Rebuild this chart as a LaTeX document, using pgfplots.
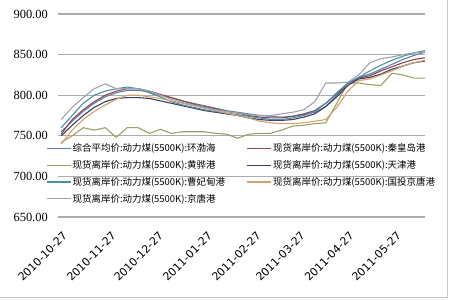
\documentclass[border=0pt]{standalone}
\usepackage{pgfplots}
\usepackage{pgfplotstable}
\pgfplotsset{compat=1.18}
\usepackage{fontspec}
\setmainfont{Liberation Serif}
\newfontfamily\cjk{Noto Sans CJK SC}
\newfontfamily\dv{DejaVu Sans}
\definecolor{cA}{HTML}{5A82B0}
\definecolor{cB}{HTML}{8E4646}
\definecolor{cC}{HTML}{9AA262}
\definecolor{cD}{HTML}{3E3E66}
\definecolor{cE}{HTML}{4A8EA6}
\definecolor{cF}{HTML}{CFA26E}
\definecolor{cG}{HTML}{A0A3AE}
\pgfplotstableread{
d A B C D E F G
0 755 752 742 750 760 740 770
7 768 770 750 763 775 757 785
14 780 782 760 775 790 770 797
21 790 792 757 785 800 780 808
28 798 800 760 792 805 788 814
35 803 805 748 796 808 795 808
42 806 808 760 797 810 800 808
49 806 808 760 797 808 800 808
56 804 805 753 796 803 798 805
63 800 801 758 793 798 796 800
70 797 797 753 790 792 793 795
77 793 793 755 787 788 790 791
84 790 789 755 784 785 787 788
91 787 786 755 781 782 784 785
98 784 783 753 779 780 781 782
105 781 780 752 777 778 778 780
112 779 778 747 775 776 775 778
119 777 775 752 772 774 772 776
126 775 773 753 770 772 768 775
133 774 772 753 769 770 766 775
140 773 772 757 769 770 765 777
147 774 774 762 770 772 765 779
154 776 777 763 773 775 766 782
161 779 781 765 777 780 768 792
168 786 790 766 786 790 770 815
175 800 802 790 798 803 785 815
182 814 814 815 812 815 805 816
189 822 821 815 820 822 818 825
196 826 824 813 822 830 820 840
203 832 830 812 826 837 825 845
210 838 835 827 832 843 830 847
217 844 840 825 836 848 836 850
224 849 844 821 840 852 840 852
231 853 846 821 842 855 843 853
}\data
\begin{document}
\begin{tikzpicture}
\path[use as bounding box] (-58bp,-83bp) rectangle (392bp,217bp);
\draw[gray!45, line width=1bp] (-58bp,-80bp) -- (389bp,-80bp) -- (389bp,217bp);
\begin{axis}[
  at={(0,0)}, anchor=south west,
  scale only axis, width=367bp, height=203bp,
  xmin=-2, xmax=231, ymin=650, ymax=900,
  ytick={650,700,750,800,850,900},
  xtick={0,31,61,92,123,151,182,212},
  xticklabels={2010-10-27,2010-11-27,2010-12-27,2011-01-27,2011-02-27,2011-03-27,2011-04-27,2011-05-27},
  ymajorgrids, grid style={line width=1.3bp, color=gray!65},
  axis line style={draw=none},
  major tick length=0pt,
  yticklabel style={font=\fontsize{12.5}{14}\selectfont, anchor=east, inner sep=0pt, xshift=-10bp,
    /pgf/number format/fixed, /pgf/number format/fixed zerofill, /pgf/number format/precision=2,
    /pgf/number format/assume math mode=true},
  xticklabel style={font=\dv\fontsize{11}{13}\selectfont, inner sep=0pt, xshift=4bp, yshift=-17bp, rotate=45, anchor=east},
  legend columns=2,
  legend cell align=left,
  legend image code/.code={\draw[#1] (0bp,0bp) -- (24bp,0bp);},
  legend style={at={(-0.033,0.369)}, anchor=north west, draw=none, fill=none,
    font=\cjk\fontsize{9.5}{11}\selectfont, row sep=4.2bp, inner sep=0pt,
    nodes={inner sep=1.5bp},
    /tikz/every odd column/.append style={column sep=0bp},
    /tikz/every even column/.append style={column sep=20bp}},
  every axis plot/.append style={line width=1.1bp},
]
\addplot[cA, no marks] table[x=d, y=A] {\data};
\addlegendentry{综合平均价:动力煤(5500K):环渤海}
\addplot[cB, no marks] table[x=d, y=B] {\data};
\addlegendentry{现货离岸价:动力煤(5500K):秦皇岛港}
\addplot[cC, no marks] table[x=d, y=C] {\data};
\addlegendentry{现货离岸价:动力煤(5500K):黄骅港}
\addplot[cD, no marks] table[x=d, y=D] {\data};
\addlegendentry{现货离岸价:动力煤(5500K):天津港}
\addplot[cE, no marks] table[x=d, y=E] {\data};
\addlegendentry{现货离岸价:动力煤(5500K):曹妃甸港}
\addplot[cF, no marks] table[x=d, y=F] {\data};
\addlegendentry{现货离岸价:动力煤(5500K):国投京唐港}
\addplot[cG, no marks] table[x=d, y=G] {\data};
\addlegendentry{现货离岸价:动力煤(5500K):京唐港}
\end{axis}
\end{tikzpicture}
\end{document}
